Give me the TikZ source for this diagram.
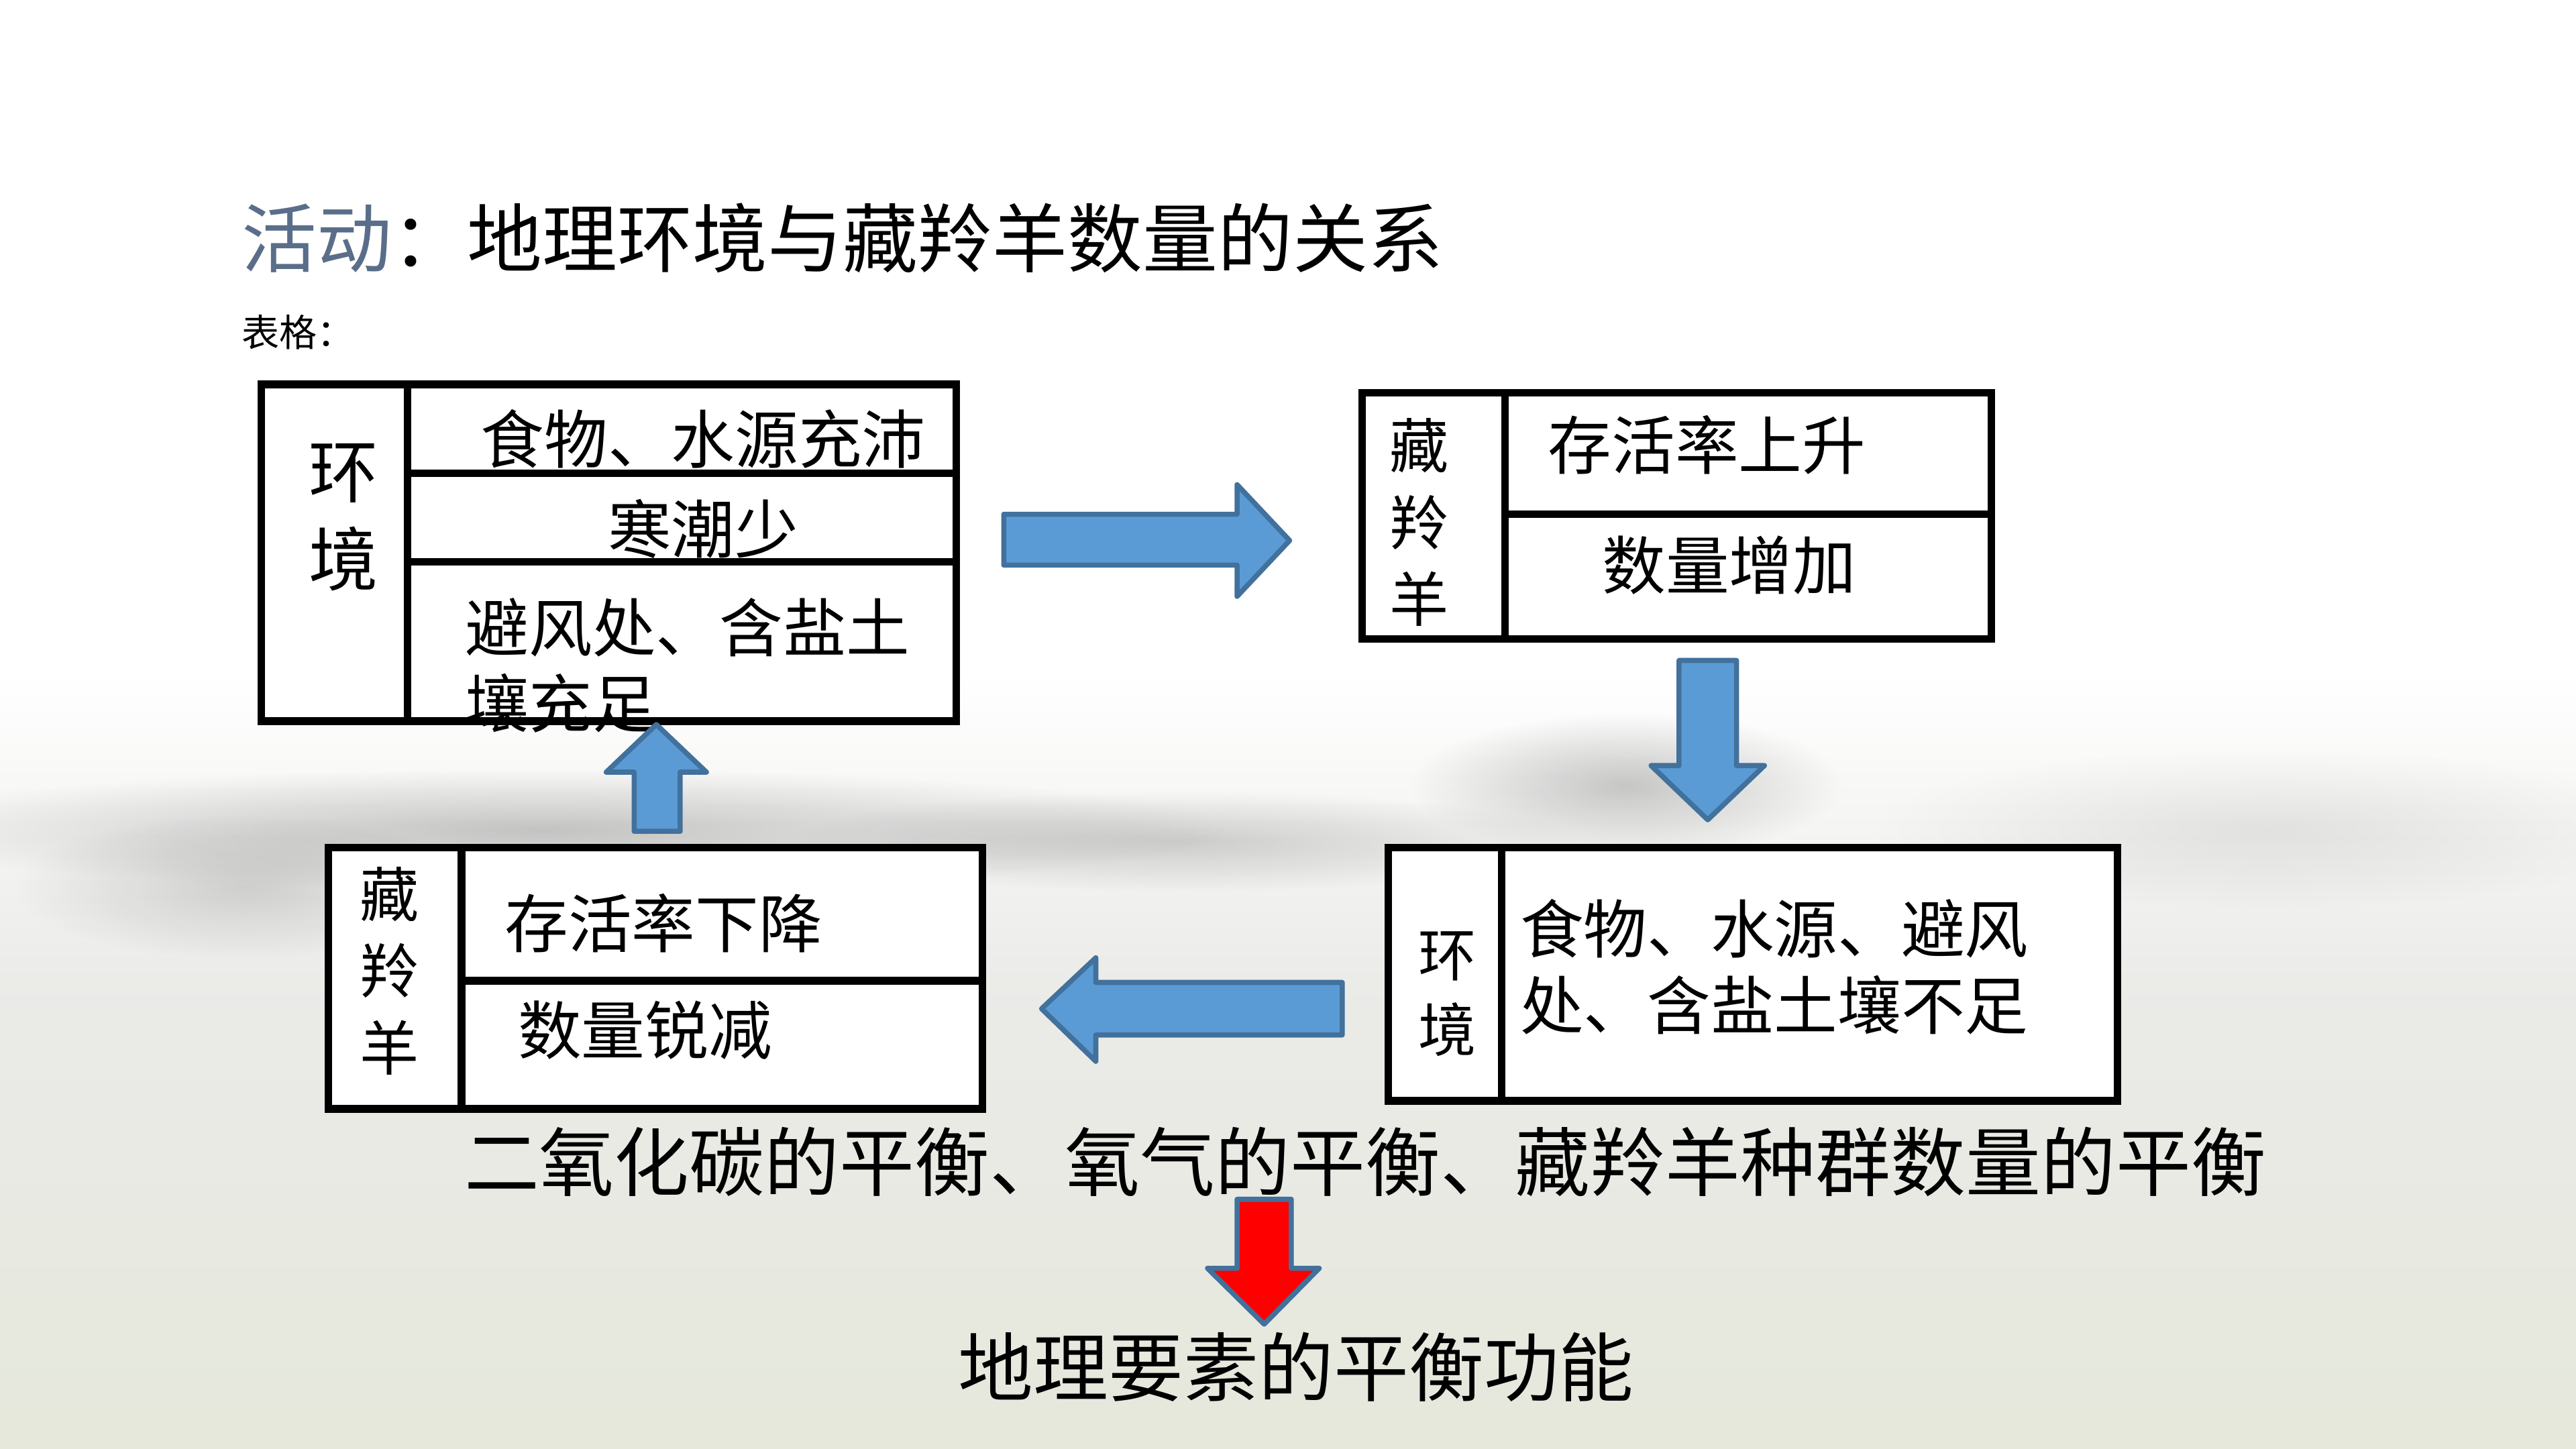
\documentclass[tikz,border=0pt]{standalone}
\usepackage{fontspec}
\setmainfont{Noto Sans CJK SC}
\usetikzlibrary{positioning,fadings}
\definecolor{arrowfill}{HTML}{5B9BD5}
\definecolor{arrowline}{HTML}{41719C}
\definecolor{titleblue}{HTML}{5A6E8A}
\definecolor{bglow}{rgb}{0.92,0.92,0.91}
\definecolor{bggreen}{rgb}{0.90,0.91,0.86}
\newcommand{\cellfont}{\fontsize{27.5}{32.6}\selectfont}
\newcommand{\bigfont}{\fontsize{32.5}{38}\selectfont}
\tikzfading[name=softblob, inner color=transparent!0, outer color=transparent!100]
\tikzstyle{tablebox}=[draw=black, line width=3.3pt, fill=white]
\tikzstyle{divider}=[draw=black, line width=3.3pt]
\tikzstyle{cell}=[inner sep=0, font=\cellfont]
\tikzstyle{sidecell}=[inner sep=0, align=center]
\tikzstyle{caption}=[inner sep=0, font=\bigfont]
\tikzstyle{bigarrow}=[draw=arrowline, fill=arrowfill, line width=2.2pt, line join=round]

\begin{document}
\begin{tikzpicture}[x=0.025cm, y=-0.025cm]
    \useasboundingbox (0,0) rectangle (1568,882);
    % background
    \fill[white] (0,0) rectangle (1568,882);
    \shade[top color=white, bottom color=bglow] (0,410) rectangle (1568,600);
    \shade[top color=bglow, bottom color=bggreen] (0,600) rectangle (1568,882);
    \foreach \cx/\cy/\rx/\ry/\op in {330/505/380/34/0.2, 720/512/220/28/0.16, 990/478/120/40/0.2, 150/540/130/40/0.14, 1380/505/220/45/0.08} {
        \fill[black, opacity=\op, path fading=softblob] (\cx,\cy) ellipse ({1.1*\rx} and {1.1*\ry});
    }

    % heading
    \node[caption, anchor=west] (title) at (147,145) {\textcolor{titleblue}{活动}：地理环境与藏羚羊数量的关系};
    \node[inner sep=0, anchor=west, font=\fontsize{16.3}{20}\selectfont] (tableLabel) at (147,202) {表格：};

    % tables
    \draw[tablebox] (159,234) rectangle (582,439);
    \draw[divider] (248,234) -- (248,439);
    \draw[divider] (248,288) -- (582,288);
    \draw[divider] (248,342) -- (582,342);

    \draw[tablebox] (829,239) rectangle (1212,389);
    \draw[divider] (916,239) -- (916,389);
    \draw[divider] (916,313) -- (1212,313);

    \draw[tablebox] (200,516) rectangle (598,675);
    \draw[divider] (281,516) -- (281,675);
    \draw[divider] (281,597) -- (598,597);

    \draw[tablebox] (845,516) rectangle (1289,670);
    \draw[divider] (914,516) -- (914,670);

    % cell texts
    \node[sidecell, font=\fontsize{30}{38}\selectfont] (env1Side) at (209,315) {环\\境};
    \node[cell] (env1Food) at (428,267) {食物、水源充沛};
    \node[cell] (env1Cold) at (428,322) {寒潮少};
    \node[cell, anchor=west, align=left] (env1Shelter) at (283,405) {避风处、含盐土\\壤充足};

    \node[sidecell, font=\fontsize{25.6}{33.3}\selectfont] (ant1Side) at (864,318) {藏\\羚\\羊};
    \node[cell, anchor=west] (ant1Rate) at (942,271) {存活率上升};
    \node[cell, anchor=west] (ant1Count) at (975,344) {数量增加};

    \node[sidecell, font=\fontsize{25.6}{33.3}\selectfont] (ant2Side) at (237,591) {藏\\羚\\羊};
    \node[cell, anchor=west] (ant2Rate) at (307,562) {存活率下降};
    \node[cell, anchor=west] (ant2Count) at (315,627) {数量锐减};

    \node[sidecell, font=\fontsize{25}{32.6}\selectfont] (env2Side) at (881,605) {环\\境};
    \node[cell, anchor=west, align=left, font=\fontsize{27.5}{33.3}\selectfont] (env2Lack) at (925,588.5) {食物、水源、避风\\处、含盐土壤不足};

    % block arrows
    \draw[bigarrow] (611,313) -- (753,313) -- (753,295) -- (785,329) -- (753,363) -- (753,344) -- (611,344) -- cycle;
    \draw[bigarrow] (1022,402) -- (1057,402) -- (1057,466) -- (1074,466) -- (1039.5,499) -- (1005,466) -- (1022,466) -- cycle;
    \draw[bigarrow] (817,598) -- (667,598) -- (667,583) -- (634,614) -- (667,646) -- (667,630) -- (817,630) -- cycle;
    \draw[bigarrow] (386,506) -- (386,470) -- (369,470) -- (399.5,441) -- (430,470) -- (414,470) -- (414,506) -- cycle;

    % conclusion
    \node[caption] (balanceLine) at (831,707) {二氧化碳的平衡、氧气的平衡、藏羚羊种群数量的平衡};
    \draw[bigarrow, fill=red] (753,730) -- (786,730) -- (786,772) -- (803,772) -- (769.5,806) -- (735,772) -- (753,772) -- cycle;
    \node[caption] (balanceFunc) at (789,832) {地理要素的平衡功能};
\end{tikzpicture}
\end{document}
